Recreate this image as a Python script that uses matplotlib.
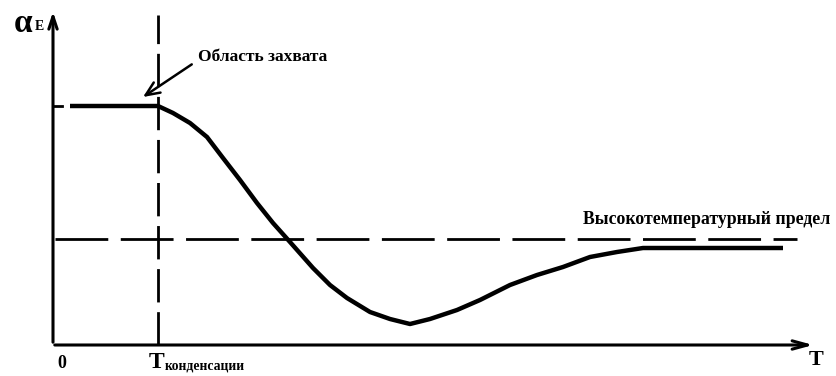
import matplotlib.pyplot as plt

# Curve of alpha_E versus temperature (arbitrary units)
curve_T = [105, 120, 137, 154, 170, 187, 204, 220, 237, 260, 277, 294,
           317, 337, 357, 377, 404, 427, 457, 484, 510, 537, 564, 590, 730]
curve_a = [239, 232, 222, 208, 187, 165, 142, 122, 103, 77, 60, 47,
           33, 26, 21, 26, 35, 45, 60, 70, 78, 88, 93, 97, 97]
plateau_T = [17, 105]
plateau_a = [239, 239]

T_cond = 105
high_T_limit = 106

plt.rcParams['font.family'] = ['Liberation Serif', 'DejaVu Serif']

fig = plt.figure(figsize=(8.36, 3.76), dpi=100)
ax = fig.add_axes([0, 0, 1, 1])
ax.set_xlim(-53, 783)
ax.set_ylim(-31, 345)
ax.axis('off')

# axes with arrows
ax.annotate('', xy=(0, 336), xytext=(0, 0),
            arrowprops=dict(arrowstyle='->,head_length=0.9,head_width=0.3', lw=2.2, color='black'))
ax.annotate('', xy=(763, 0), xytext=(-1, 0),
            arrowprops=dict(arrowstyle='->,head_length=1.1,head_width=0.3', lw=2.2, color='black'))

# tick on the vertical axis
ax.plot([0, 9], [239, 239], color='black', lw=2)

# dashed guides
ax.plot([T_cond, T_cond], [0, 330], color='black', lw=2, dashes=(12, 3.5))
ax.plot([2, 744], [high_T_limit, high_T_limit], color='black', lw=2, dashes=(19, 4.5))

# main curve
ax.plot(plateau_T, plateau_a, color='black', lw=3.2, solid_capstyle='butt')
ax.plot(curve_T, curve_a, color='black', lw=3.2, solid_joinstyle='round',
        solid_capstyle='butt')

# labels
ax.text(-39, 322, 'α', fontsize=24, fontweight='bold', ha='left', va='center')
ax.text(-18, 319, 'E', fontsize=10, fontweight='bold', ha='left', va='center')
ax.text(4, -18, '0', fontsize=13, fontweight='bold', ha='left', va='center')
ax.text(96, -17, 'T', fontsize=17, fontweight='bold', ha='left', va='center')
ax.text(112, -21, 'конденсации', fontsize=9.8, fontweight='bold', ha='left', va='center')
ax.text(756, -15, 'T', fontsize=16, fontweight='bold', ha='left', va='center')
ax.text(530, 125, 'Высокотемпературный предел', fontsize=12.8, fontweight='bold',
        ha='left', va='center')

ax.annotate('Область захвата', xy=(90, 248), xytext=(145, 288), fontsize=12.5,
            fontweight='bold', ha='left', va='center',
            arrowprops=dict(arrowstyle='->,head_length=0.8,head_width=0.35', lw=1.8,
                            color='black', shrinkA=3, shrinkB=0,
                            relpos=(0, 0.3)))

fig.savefig('out.png', dpi=100)
